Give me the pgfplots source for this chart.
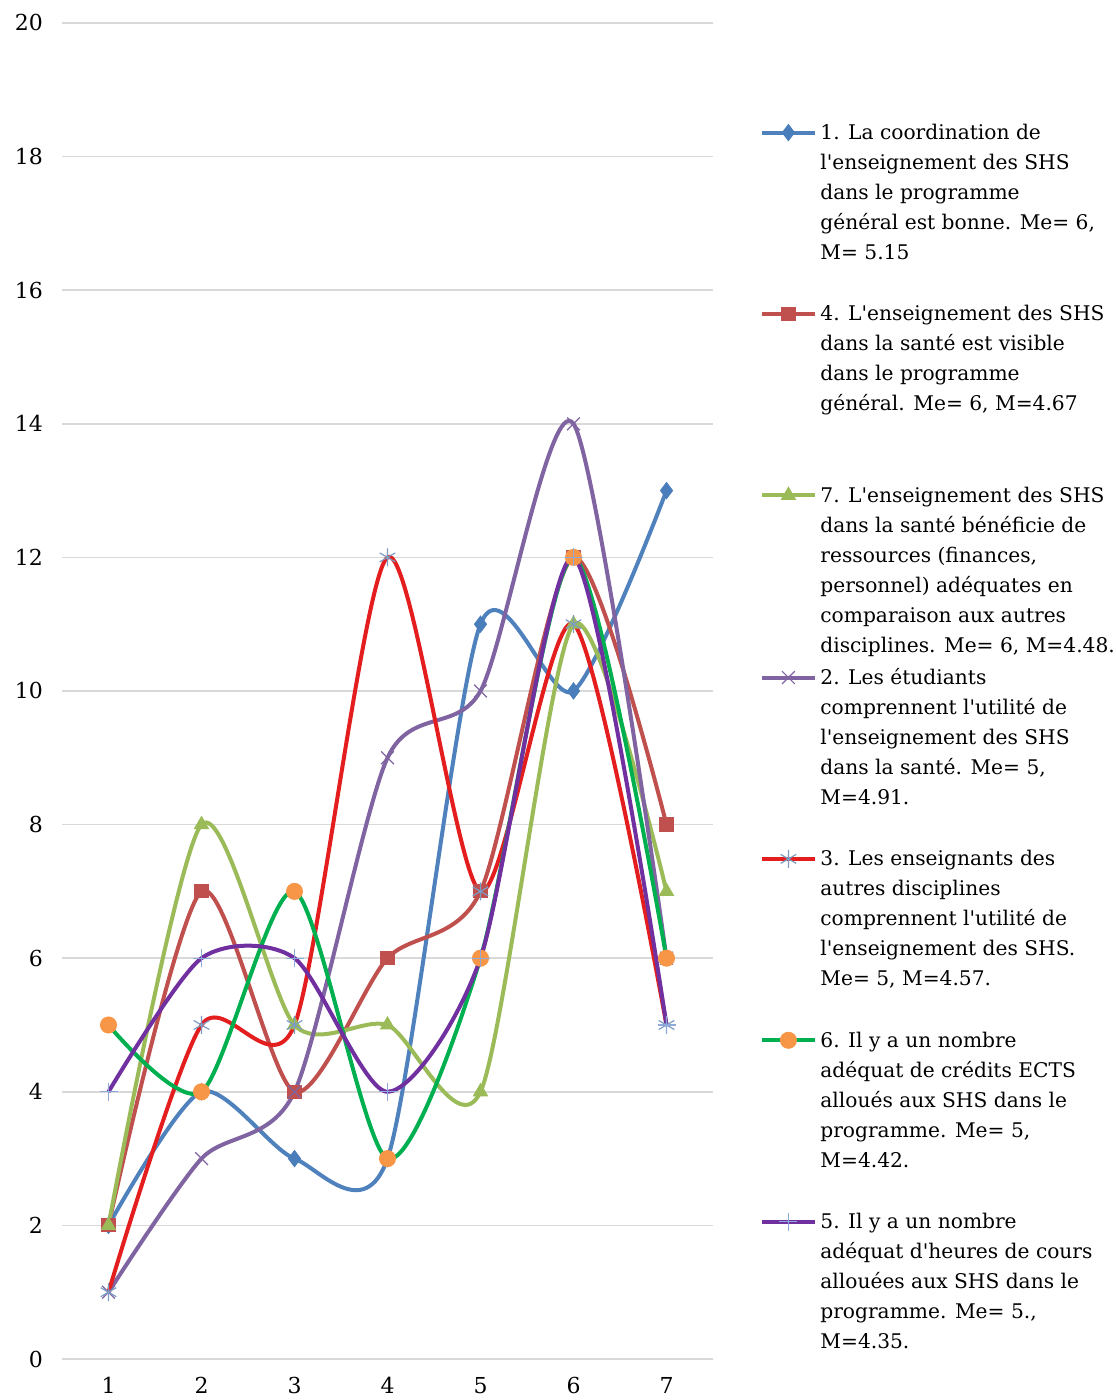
\documentclass[border=0pt]{standalone}
\usepackage{fontspec}
\setmainfont{DejaVu Serif}[Ligatures=TeXOff]
\usepackage{pgfplots}
\pgfplotsset{compat=1.18}
\definecolor{cblue}{HTML}{4F81BD}
\definecolor{cbluem}{HTML}{4A7EBB}
\definecolor{cbrown}{HTML}{C0504D}
\definecolor{colive}{HTML}{9BBB59}
\definecolor{cpurple}{HTML}{8064A2}
\definecolor{cred}{HTML}{E41E1E}
\definecolor{cast}{HTML}{7C9CC4}
\definecolor{cgreen}{HTML}{00B050}
\definecolor{corange}{HTML}{F79646}
\definecolor{cdpurple}{HTML}{7030A0}
\definecolor{cplus}{HTML}{8EA9DB}
\definecolor{gridgray}{HTML}{D9D9D9}
\newcommand{\entry}[1]{\parbox[t]{170pt}{\raggedright #1}}
\begin{document}
\fontsize{10.1pt}{15pt}\selectfont
\begin{tikzpicture}
\useasboundingbox (-31pt,-20.5pt) rectangle (526.5pt,679.5pt);
\begin{axis}[
  at={(0,0)}, anchor=south west,
  scale only axis, width=325.5pt, height=668pt,
  xmin=0.5, xmax=7.5, ymin=0, ymax=20,
  xtick={1,...,7}, ytick={0,2,...,20},
  axis line style={draw=none},
  major tick length=0pt,
  ymajorgrids, grid style={color=gridgray, line width=0.75pt},
  tick label style={font=\fontsize{11pt}{13pt}\selectfont},
  /pgf/number format/assume math mode=true,
  yticklabel style={xshift=-6pt},
  xticklabel style={yshift=-5.5pt},
  legend style={at={(1.0722,0.9275)}, anchor=north west, draw=none, fill=none,
    inner sep=0pt, row sep=77.5pt, column sep=0pt,
    cells={anchor=base west}, font=\fontsize{10.1pt}{15pt}\selectfont},
  legend image code/.code={\draw[mark repeat=2,mark phase=2,#1] plot coordinates {(0pt,3.5pt)(13pt,3.5pt)(26pt,3.5pt)};},
  every axis plot/.append style={line width=2pt, smooth, tension=0.45},
]
\addplot[color=cblue, mark=diamond*, mark size=4pt, mark options={solid, fill=cbluem, draw=cbluem, line width=0.5pt}]
  coordinates {(1,2)(2,4)(3,3)(4,3)(5,11)(6,10)(7,13)};
\addlegendentry{\entry{1. La coordination de\\l'enseignement des SHS\\dans le programme\\général est bonne. Me= 6,\\M= 5.15}}
\addplot[color=cbrown, mark=square*, mark size=3.3pt, mark options={solid, fill=cbrown, draw=cbrown, line width=0.5pt}]
  coordinates {(1,2)(2,7)(3,4)(4,6)(5,7)(6,12)(7,8)};
\addlegendentry{\entry{4. L'enseignement des SHS\\dans la santé est visible\\dans le programme\\général. Me= 6, M=4.67}}
\addplot[color=colive, mark=triangle*, mark size=4pt, mark options={solid, fill=colive, draw=colive, line width=0.5pt}]
  coordinates {(1,2)(2,8)(3,5)(4,5)(5,4)(6,11)(7,7)};
\addlegendentry{\entry{7. L'enseignement des SHS\\dans la santé bénéficie de\\ressources (finances,\\personnel) adéquates en\\comparaison aux autres\\disciplines. Me= 6, M=4.48.}}
\addplot[color=cpurple, mark=x, mark size=4.5pt, mark options={solid, draw=cpurple, line width=0.6pt}]
  coordinates {(1,1)(2,3)(3,4)(4,9)(5,10)(6,14)(7,6)};
\addlegendentry{\entry{2. Les étudiants\\comprennent l'utilité de\\l'enseignement des SHS\\dans la santé. Me= 5,\\M=4.91.}}
\addplot[color=cred, mark=asterisk, mark size=4.5pt, mark options={solid, draw=cast, line width=0.6pt}]
  coordinates {(1,1)(2,5)(3,5)(4,12)(5,7)(6,11)(7,5)};
\addlegendentry{\entry{3. Les enseignants des\\autres disciplines\\comprennent l'utilité de\\l'enseignement des SHS.\\Me= 5, M=4.57.}}
\addplot[color=cgreen, mark=*, mark size=4pt, mark options={solid, fill=corange, draw=corange, line width=0.5pt}]
  coordinates {(1,5)(2,4)(3,7)(4,3)(5,6)(6,12)(7,6)};
\addlegendentry{\entry{6. Il y a un nombre\\adéquat de crédits ECTS\\alloués aux SHS dans le\\programme. Me= 5,\\M=4.42.}}
\addplot[color=cdpurple, mark=+, mark size=4.5pt, mark options={solid, draw=cplus, line width=0.6pt}]
  coordinates {(1,4)(2,6)(3,6)(4,4)(5,6)(6,12)(7,5)};
\addlegendentry{\entry{5. Il y a un nombre\\adéquat d'heures de cours\\allouées aux SHS dans le\\programme. Me= 5.,\\M=4.35.}}
\end{axis}
\end{tikzpicture}
\end{document}
